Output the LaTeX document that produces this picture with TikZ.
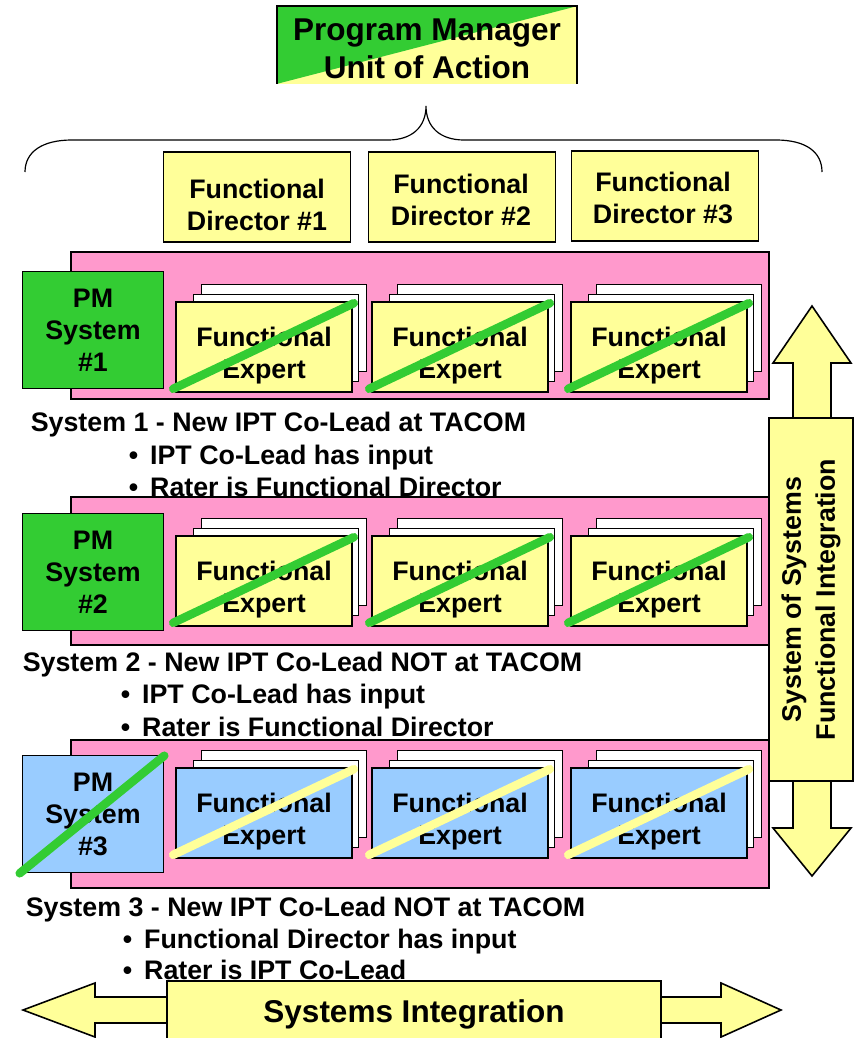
\documentclass[tikz,border=0pt]{standalone}
\usepackage{fontspec}
\setmainfont{Liberation Sans}
\usetikzlibrary{positioning,calc}
\definecolor{pmgreen}{HTML}{33CC33}
\definecolor{bandpink}{HTML}{FF99CC}
\definecolor{cardyellow}{HTML}{FFFF99}
\definecolor{cardblue}{HTML}{99CCFF}
\tikzset{every picture/.style={line width=1.6pt}}

\begin{document}
\begin{tikzpicture}[x=1pt, y=-1pt,
  font=\bfseries\fontsize{26.8}{32}\selectfont,
  box/.style={draw, align=center, inner sep=0pt},
  dirbox/.style={box, fill=cardyellow, minimum width=187pt, minimum height=90pt},
  pmbox/.style={box, minimum width=141pt, minimum height=117pt},
  card/.style={draw, fill=white, minimum width=165pt, minimum height=87pt},
  front/.style={box, minimum width=176pt, minimum height=90pt},
  strike/.style={line width=8.5pt, line cap=round},
  band/.style={draw, fill=bandpink},
  note/.style={anchor=base west, inner sep=0pt},
  bigarrow/.style={draw, fill=cardyellow, line join=miter}]
  \useasboundingbox (0,0) rectangle (855,1038);
  \clip (0,0) rectangle (855,1038);

  % unit of action, split fill
  \node[inner sep=0pt, minimum width=298pt, minimum height=76pt] (pmua) at (427,45) {};
  \fill[cardyellow] (pmua.south west) rectangle (pmua.north east);
  \fill[pmgreen] (pmua.south west) -- (pmua.north west) -- (pmua.north east) -- cycle;
  \draw (pmua.south west) -- (pmua.north west) -- (pmua.north east) -- (pmua.south east);
  \node[align=center, font=\bfseries\fontsize{31.5}{38}\selectfont] (pmuatext) at (427,49) {Program Manager\\Unit of Action};

  % brace
  \draw[line width=1.2pt] (25,172) .. controls (25,152) and (42,140) .. (72,140) -- (388,140)
    .. controls (412,140) and (426,127) .. (426,106)
    .. controls (426,127) and (440,140) .. (464,140) -- (776,140)
    .. controls (806,140) and (822,152) .. (822,172);

  % directors
  \node[dirbox] (fd1) at (257,197) {};
  \node[dirbox] (fd2) at (462,197) {};
  \node[dirbox] (fd3) at (665,196) {};
  \node[align=center] (fdt1) at (257,205) {Functional\\Director \#1};
  \node[align=center] (fdt2) at (461,200) {Functional\\Director \#2};
  \node[align=center] (fdt3) at (663,198) {Functional\\Director \#3};

  % system bands
  \foreach \b/\t/\u in {1/252/399, 2/497/645, 3/740/888}
    \draw[band] (71,\t) rectangle (769,\u);

  % expert stacks
  \foreach \b/\y/\f/\s in {1/347/cardyellow/pmgreen, 2/581/cardyellow/pmgreen, 3/813/cardblue/cardyellow}{
    \foreach \k/\x in {1/264, 2/460, 3/659}{
      \node[card] (bk\b\k) at (\x+20,\y-19) {};
      \node[card] (bm\b\k) at (\x+12,\y-9) {};
      \node[front, fill=\f] (fe\b\k) at (\x,\y) {};
      \node[align=center] (fet\b\k) at (\x,\y+9) {Functional\\Expert};
      \draw[strike, \s] ($(fe\b\k.south west)+(-2,-4)$) -- ($(fe\b\k.north east)+(1,2)$);
    }
  }

  % program managers
  \node[pmbox, fill=pmgreen] (pm1) at (93,330) {PM\\System\\\#1};
  \node[pmbox, fill=pmgreen] (pm2) at (93,572) {PM\\System\\\#2};
  \node[pmbox, fill=cardblue] (pm3) at (93,814) {PM\\System\\\#3};
  \draw[strike, pmgreen] ($(pm3.south west)+(-2,0)$) -- ($(pm3.north east)+(0,1)$);

  % notes
  \node[note] (s1) at (30,431) {System 1 - New IPT Co-Lead at TACOM};
  \node[note] (s1a) at (128,464) {•\hspace{12pt}IPT Co-Lead has input};
  \node[note] (s1b) at (128,496) {•\hspace{12pt}Rater is Functional Director};
  \node[note] (s2) at (22,671) {System 2 - New IPT Co-Lead NOT at TACOM};
  \node[note] (s2a) at (120,703) {•\hspace{12pt}IPT Co-Lead has input};
  \node[note] (s2b) at (120,736) {•\hspace{12pt}Rater is Functional Director};
  \node[note] (s3) at (25,916) {System 3 - New IPT Co-Lead NOT at TACOM};
  \node[note] (s3a) at (122,948) {•\hspace{12pt}Functional Director has input};
  \node[note] (s3b) at (122,979) {•\hspace{12pt}Rater is IPT Co-Lead};

  % system of systems arrow
  \draw[bigarrow] (793,430) -- (793,363) -- (773,363) -- (812,306) -- (851,363) -- (831,363) -- (831,430) -- cycle;
  \draw[bigarrow] (793,770) -- (793,828) -- (773,828) -- (812,876) -- (851,828) -- (831,828) -- (831,770) -- cycle;
  \node[box, fill=cardyellow, rotate=90, minimum width=363pt, minimum height=84pt,
    font=\bfseries\fontsize{26.8}{34}\selectfont] (sos) at (811,599.5) {System of Systems\\Functional Integration};

  % systems integration arrow
  \draw[bigarrow] (200,997) -- (95,997) -- (95,983) -- (23,1010) -- (95,1037) -- (95,1023) -- (200,1023) -- cycle;
  \draw[bigarrow] (640,997) -- (721,997) -- (721,983) -- (781,1010) -- (721,1037) -- (721,1023) -- (640,1023) -- cycle;
  \node[box, fill=cardyellow, minimum width=494pt, minimum height=90pt, anchor=north] (si) at (414,980) {};
  \node[font=\bfseries\fontsize{31.5}{38}\selectfont] (sitext) at (414,1014) {Systems Integration};
\end{tikzpicture}
\end{document}
